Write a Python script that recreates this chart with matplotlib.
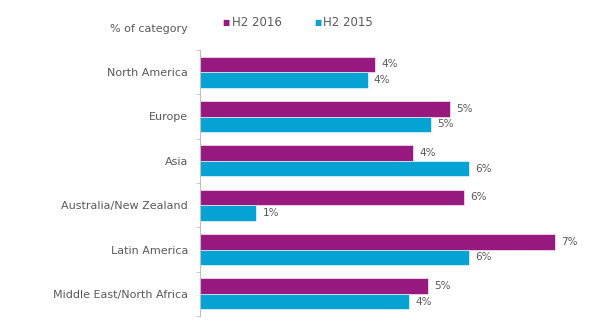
import matplotlib.pyplot as plt
import numpy as np

# Share of category by region, H2 2016 vs H2 2015
regions = ['North America', 'Europe', 'Asia', 'Australia/New Zealand',
           'Latin America', 'Middle East/North Africa']
h2_2016 = [3.68, 5.25, 4.48, 5.55, 7.45, 4.79]
h2_2015 = [3.52, 4.85, 5.65, 1.18, 5.65, 4.39]
labels_2016 = ['4%', '5%', '4%', '6%', '7%', '5%']
labels_2015 = ['4%', '5%', '6%', '1%', '6%', '4%']

purple = '#98197f'
cyan = '#05a3d3'
grey = '#595959'

fig = plt.figure(figsize=(6.15, 3.26), dpi=100)
ax = fig.add_axes([200 / 615, 10 / 326, 405 / 615, 266 / 326])

y = np.arange(len(regions))
h = 0.35
ax.barh(y - h / 2, h2_2016, height=h, color=purple, edgecolor='white', linewidth=0.4)
ax.barh(y + h / 2, h2_2015, height=h, color=cyan, edgecolor='white', linewidth=0.4)

for yi, v, lab in zip(y, h2_2016, labels_2016):
    ax.text(v + 0.13, yi - h / 2, lab, va='center', ha='left', fontsize=7.5, color=grey)
for yi, v, lab in zip(y, h2_2015, labels_2015):
    ax.text(v + 0.13, yi + h / 2, lab, va='center', ha='left', fontsize=7.5, color=grey)

ax.set_xlim(0, 405 / 47.6)
ax.set_ylim(len(regions) - 0.5, -0.5)
ax.set_yticks(y)
ax.set_yticklabels(regions, fontsize=8, color=grey)
ax.set_yticks(np.arange(-0.5, len(regions), 1), minor=True)
ax.tick_params(axis='y', which='major', length=0, pad=8.5)
ax.tick_params(axis='y', which='minor', length=3, color='#bfbfbf', direction='out')
ax.set_xticks([])
for s in ['top', 'right', 'bottom']:
    ax.spines[s].set_visible(False)
ax.spines['left'].set_color('#bfbfbf')
ax.spines['left'].set_linewidth(0.8)

fig.text(188 / 615, 1 - 29 / 326, '% of category', ha='right', va='center',
         fontsize=8, color=grey)
fig.text(222 / 615, 1 - 23 / 326, '\u25a0', ha='left', va='center', fontsize=5.5, color=purple)
fig.text(232 / 615, 1 - 23 / 326, 'H2 2016', ha='left', va='center', fontsize=8.5, color=grey)
fig.text(314 / 615, 1 - 23 / 326, '\u25a0', ha='left', va='center', fontsize=5.5, color=cyan)
fig.text(323 / 615, 1 - 23 / 326, 'H2 2015', ha='left', va='center', fontsize=8.5, color=grey)

fig.savefig('out.png', dpi=100)
